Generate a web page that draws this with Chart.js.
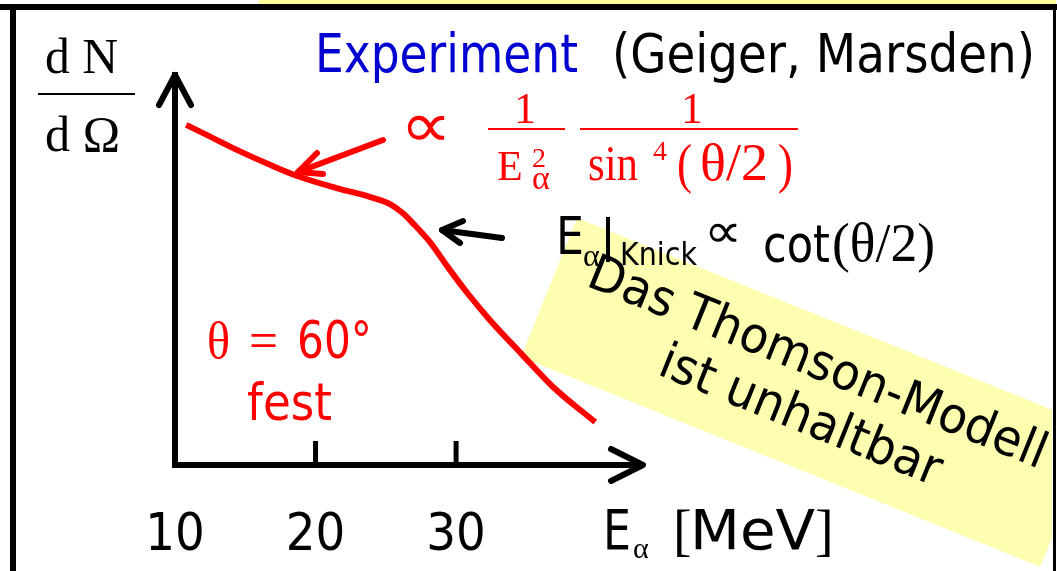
<!DOCTYPE html>
<html>
<head>
<meta charset="utf-8">
<script src="https://cdn.jsdelivr.net/npm/chart.js@4"></script>
<style>
  html, body { margin: 0; padding: 0; background: #fff; }
  #wrap { width: 1057px; height: 571px; }
</style>
</head>
<body>
<div id="wrap"><canvas id="myChart"></canvas></div>
<script>
// curve (arbitrary units on y)
const energy = [10.8, 12.0, 14.4, 16.8, 18.7, 21.5, 23.9, 25.3, 26.2, 26.9, 28.2, 29.4, 30.8, 32.4, 34.6, 36.9, 39.9];
const rate = [8.72, 8.51, 8.08, 7.69, 7.41, 7.10, 6.87, 6.69, 6.46, 6.21, 5.69, 5.08, 4.41, 3.72, 2.87, 2.00, 1.10];
const tickValues = [10, 20, 30];
const xRange = [10, 43.3];
const yRange = [0, 10];

const SANS = '"DejaVu Sans", sans-serif';
const SERIF = '"Liberation Serif", "DejaVu Serif", serif';

// draws a string, optionally squeezed to a target width / stretched vertically
function txt(ctx, s, x, y, o) {
    ctx.save();
    ctx.font = o.font;
    ctx.fillStyle = o.color || '#000';
    ctx.textBaseline = o.baseline || 'alphabetic';
    const w = ctx.measureText(s).width;
    const sx = o.w ? o.w / w : 1;
    ctx.translate(x, y);
    if (o.rot) ctx.rotate(o.rot);
    ctx.scale(sx, o.sy || 1);
    let dx = 0;
    if (o.align === 'center') dx = -w / 2;
    if (o.align === 'right') dx = -w;
    ctx.fillText(s, dx, 0);
    ctx.restore();
}

function line(ctx, pts, color, width, cap) {
    ctx.save();
    ctx.strokeStyle = color;
    ctx.lineWidth = width;
    ctx.lineCap = cap || 'round';
    ctx.lineJoin = 'round';
    ctx.beginPath();
    ctx.moveTo(pts[0][0], pts[0][1]);
    for (let i = 1; i < pts.length; i++) ctx.lineTo(pts[i][0], pts[i][1]);
    ctx.stroke();
    ctx.restore();
}

const deco = {
    id: 'deco',
    beforeDraw(chart) {
        const ctx = chart.ctx;
        ctx.save();
        ctx.fillStyle = '#fff';
        ctx.fillRect(0, 0, chart.width, chart.height);
        // frame
        ctx.fillStyle = '#ffff99';
        ctx.fillRect(259, 0, 797, 4);
        ctx.fillStyle = '#000';
        ctx.fillRect(0, 4, 1057, 6);
        ctx.fillRect(10, 4, 6, 567);
        ctx.fillRect(1053, 4, 3, 567);
        // tilted yellow note
        ctx.beginPath();
        ctx.rect(16, 10, 1036, 561);
        ctx.clip();
        ctx.translate(521, 357);
        ctx.rotate(22 * Math.PI / 180);
        ctx.fillStyle = '#fefeb0';
        ctx.fillRect(0, -150, 560, 150);
        ctx.restore();
    },
    afterDraw(chart) {
        const ctx = chart.ctx;
        const xs = chart.scales.x, ys = chart.scales.y;
        const x0 = xs.left, y0 = ys.bottom;

        // axis arrow heads
        line(ctx, [[x0 - 16, ys.top + 30], [x0, ys.top], [x0 + 16, ys.top + 30]], '#000', 6);
        line(ctx, [[xs.right - 32, y0 - 16], [xs.right, y0], [xs.right - 32, y0 + 16]], '#000', 6);
        // tick marks pointing inward
        tickValues.slice(1).forEach(v => {
            const px = xs.getPixelForValue(v);
            line(ctx, [[px, y0], [px, y0 - 24]], '#000', 5, 'butt');
        });

        // dN / dOmega
        txt(ctx, 'd N', 45, 73, { font: '50px ' + SERIF, w: 73 });
        ctx.fillStyle = '#000';
        ctx.fillRect(38, 93, 97, 2);
        txt(ctx, 'd \u03A9', 45, 151, { font: '50px ' + SERIF, w: 75 });

        // title line
        txt(ctx, 'Experiment', 315, 72, { font: '53px ' + SANS, color: '#0000d0', w: 263 });
        txt(ctx, '(Geiger, Marsden)', 612, 72, { font: '53px ' + SANS, w: 423 });

        // red proportionality
        const red = '#ff0000';
        line(ctx, [[383, 140], [298, 172]], red, 6);
        line(ctx, [[317, 153], [298, 172], [323, 174]], red, 6);
        txt(ctx, '\u221D', 400, 130, { font: '64px ' + SANS, color: red, w: 52, baseline: 'middle' });
        txt(ctx, '1', 525, 123, { font: '44px ' + SERIF, color: red, align: 'center' });
        ctx.fillStyle = red;
        ctx.fillRect(488, 128, 77, 2);
        txt(ctx, 'E', 497, 180, { font: '42px ' + SERIF, color: red });
        txt(ctx, '2', 532, 167, { font: '28px ' + SERIF, color: red });
        txt(ctx, '\u03B1', 532, 189, { font: '34px ' + SERIF, color: red });
        txt(ctx, '1', 692, 123, { font: '44px ' + SERIF, color: red, align: 'center' });
        ctx.fillStyle = red;
        ctx.fillRect(580, 128, 218, 2);
        txt(ctx, 'sin', 588, 180, { font: '50px ' + SERIF, color: red, w: 50 });
        txt(ctx, '4', 653, 160, { font: '28px ' + SERIF, color: red });
        txt(ctx, '(', 677, 182, { font: '54px ' + SERIF, color: red, w: 15 });
        txt(ctx, '\u03B8/2', 700, 180, { font: '52px ' + SERIF, color: red, w: 68 });
        txt(ctx, ')', 778, 182, { font: '54px ' + SERIF, color: red, w: 15 });

        // knee
        line(ctx, [[502, 238], [442, 230]], '#000', 6);
        line(ctx, [[463, 221], [442, 230], [460, 243]], '#000', 6);
        txt(ctx, 'E', 556, 254, { font: '52px ' + SANS, w: 28 });
        txt(ctx, '\u03B1', 583, 266, { font: '32px ' + SERIF });
        line(ctx, [[608, 217], [608, 262]], '#000', 4, 'butt');
        txt(ctx, 'Knick', 620, 265, { font: '32px ' + SANS, w: 77 });
        txt(ctx, '\u221D', 704, 235, { font: '48px ' + SANS, w: 38, baseline: 'middle' });
        txt(ctx, 'cot', 763, 262, { font: '52px ' + SANS, w: 67 });
        txt(ctx, '(\u03B8/2)', 832, 261, { font: '54px ' + SERIF, w: 103 });

        // fixed angle
        txt(ctx, '\u03B8', 207, 358, { font: '52px ' + SERIF, color: red, w: 23 });
        txt(ctx, '=', 249, 358, { font: '52px ' + SERIF, color: red, w: 29 });
        txt(ctx, '60\u00B0', 297, 358, { font: '52px ' + SANS, color: red, w: 75 });
        txt(ctx, 'fest', 247, 420, { font: '52px ' + SANS, color: red, w: 85 });

        // axis title
        txt(ctx, 'E', 603, 549, { font: '56px ' + SANS, w: 28 });
        txt(ctx, '\u03B1', 633, 558, { font: '30px ' + SERIF });
        txt(ctx, '[', 673, 549, { font: '56px ' + SERIF });
        txt(ctx, 'MeV', 690, 549, { font: '56px ' + SANS, w: 125 });
        txt(ctx, ']', 815, 549, { font: '56px ' + SERIF });

        // tilted note text
        const rot = 22 * Math.PI / 180;
        txt(ctx, 'Das Thomson-Modell', 812, 377, { font: '50px ' + SANS, w: 490, rot: rot, align: 'center' });
        txt(ctx, 'ist unhaltbar', 795, 430, { font: '50px ' + SANS, w: 300, rot: rot, align: 'center' });
    }
};

new Chart('myChart', {
    type: 'line',
    data: {
        datasets: [{
            data: energy.map((e, i) => ({ x: e, y: rate[i] })),
            borderColor: '#ff0000',
            borderWidth: 6,
            pointRadius: 0,
            cubicInterpolationMode: 'monotone',
            fill: false
        }]
    },
    options: {
        responsive: true,
        maintainAspectRatio: false,
        animation: false,
        layout: { padding: { left: 175, top: 75, right: 414, bottom: 0 } },
        plugins: { legend: { display: false }, tooltip: { enabled: false } },
        scales: {
            x: {
                type: 'linear',
                min: xRange[0],
                max: xRange[1],
                afterBuildTicks: scale => { scale.ticks = tickValues.map(v => ({ value: v })); },
                afterFit: scale => { scale.height = 106; },
                grid: { display: false, drawTicks: false },
                border: { display: true, color: '#000', width: 6 },
                ticks: {
                    color: '#000',
                    padding: 40,
                    maxRotation: 0,
                    font: { family: '"DejaVu Sans Condensed", "DejaVu Sans", sans-serif', size: 52 }
                }
            },
            y: {
                min: yRange[0],
                max: yRange[1],
                afterFit: scale => { scale.width = 0; },
                grid: { display: false, drawTicks: false },
                border: { display: true, color: '#000', width: 6 },
                ticks: { display: false }
            }
        }
    },
    plugins: [deco]
});
</script>
</body>
</html>
